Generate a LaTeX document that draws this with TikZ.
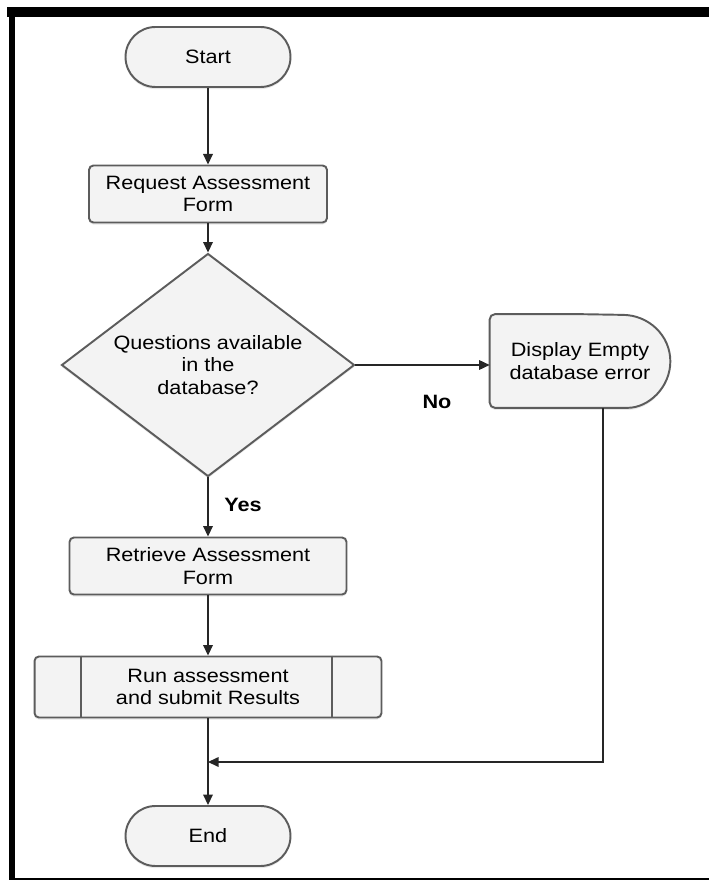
\documentclass[tikz,border=0pt]{standalone}
\usepackage{fontspec}
\setmainfont{Liberation Sans}[FakeStretch=1.12]
\usetikzlibrary{shapes.geometric,arrows.meta,shadows}

\definecolor{boxfill}{HTML}{F3F3F3}
\definecolor{boxline}{HTML}{5C5C5C}

\tikzset{
  base/.style={draw=boxline, fill=boxfill, line width=1.1pt, align=center,
    font=\fontsize{11}{12.8}\selectfont,
    drop shadow={opacity=0.18, shadow xshift=0pt, shadow yshift=-1.2pt}},
  terminal/.style={base, rounded corners=0.6cm, minimum width=3.3cm, minimum height=1.2cm},
  process/.style={base, rounded corners=2.5pt, minimum height=1.14cm},
  decision/.style={base, diamond, aspect=1.31, minimum width=5.86cm, minimum height=4.46cm, inner sep=0pt},
  arr/.style={-{Triangle[length=6pt,width=5.5pt]}, line width=0.7pt, black!85},
  lbl/.style={font=\fontsize{11}{12.8}\selectfont\bfseries}
}

\begin{document}
\begin{tikzpicture}[x=0.02cm, y=-0.02cm]
  \useasboundingbox (0,0) rectangle (709,881);
  % frame
  \fill (7,7) rectangle (709,17);
  \fill (9,7) rectangle (15,880);
  \draw[line width=0.9pt] (9,879) -- (709,879);

  % nodes
  \node[terminal] (start) at (208,57) {Start};
  \node[process, minimum width=4.76cm] (req) at (208,194) {Request Assessment\\Form};
  \node[decision] (dec) at (208,365) {Questions available\\in the\\database?};
  \node[minimum width=3.6cm, minimum height=1.86cm, inner sep=0pt] (disp) at (580,361) {};
  \draw[base] (disp.north)
    {[rounded corners=3pt] -- (disp.north west) -- (disp.south west) -- ([xshift=-0.96cm]disp.south east)}
    arc[start angle=-90, end angle=90, x radius=0.96cm, y radius=0.93cm] -- cycle;
  \node[align=center, font=\fontsize{11}{12.8}\selectfont] at (disp.center) {Display Empty\\database error};
  \node[process, minimum width=5.54cm] (ret) at (208,566) {Retrieve Assessment\\Form};
  \node[process, minimum width=6.94cm, minimum height=1.22cm] (run) at (208,687) {Run assessment\\and submit Results};
  \draw[boxline, line width=1.1pt] ([xshift=0.94cm]run.north west) -- ([xshift=0.94cm]run.south west);
  \draw[boxline, line width=1.1pt] ([xshift=-1cm]run.north east) -- ([xshift=-1cm]run.south east);
  \node[terminal] (end) at (208,836) {End};
  \coordinate (merge) at (208,762);

  % connectors
  \draw[arr] (start) -- (req);
  \draw[arr] (req) -- (dec);
  \draw[arr] (dec.east) -- (dec.east -| disp.west);
  \node[lbl] at (437,402) {No};
  \draw[arr] (dec.south) -- (ret.north);
  \node[lbl] at (243,505) {Yes};
  \draw[arr] (ret) -- (run);
  \draw[arr] (run) -- (end);
  \draw[arr] ([xshift=0.46cm]disp.south) -- ([xshift=0.46cm]disp.south |- merge) -- (merge);
\end{tikzpicture}
\end{document}
